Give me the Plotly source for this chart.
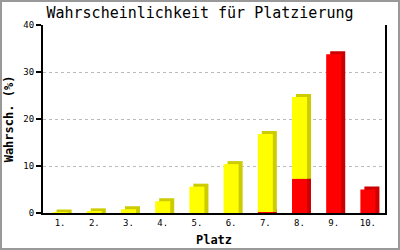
import plotly.graph_objects as go

# ---- data ----
places = ["1.", "2.", "3.", "4.", "5.", "6.", "7.", "8.", "9.", "10."]
red_vals = [0, 0, 0, 0, 0, 0, 0.2, 7.3, 33.8, 5.0]
yellow_vals = [0.1, 0.35, 0.8, 2.5, 5.6, 10.4, 16.6, 17.4, 0, 0]
title_text = "Wahrscheinlichkeit für Platzierung"
y_title = "Wahrsch. (%)"
x_title = "Platz"

# ---- style ----
W, H = 400, 250
ML, MR, MT, MB = 43, 15, 25, 37
BAR_W = 0.44
DEPTH_X = 0.117   # category units (~4px)
DEPTH_Y = 0.64    # value units (~3px)
FONT = "DejaVu Sans Mono"

fig = go.Figure()

def add_series(vals, base, front, side):
    fig.add_trace(go.Bar(
        x=places, y=[v + DEPTH_Y if v > 0 else 0 for v in vals], base=base,
        width=BAR_W, offset=-BAR_W / 2 + DEPTH_X,
        marker=dict(color=side, line=dict(width=0)), hoverinfo="skip", showlegend=False))
    fig.add_trace(go.Bar(
        x=places, y=vals, base=base,
        width=BAR_W, offset=-BAR_W / 2,
        marker=dict(color=front, line=dict(width=0)), hoverinfo="skip", showlegend=False))

zero = [0] * len(places)
add_series(red_vals, zero, "#FF0000", "#CC0000")
add_series(yellow_vals, red_vals, "#FFFF00", "#CCCC00")

fig.update_layout(
    width=W, height=H,
    margin=dict(l=ML, r=MR, t=MT, b=MB, autoexpand=False),
    barmode="overlay",
    paper_bgcolor="white", plot_bgcolor="white",
    font=dict(family=FONT, color="black", size=9),
    title=dict(text=title_text, x=0.5, xanchor="center", y=1 - 13 / H, yanchor="middle",
               font=dict(family=FONT, size=15, color="black")),
    xaxis=dict(
        type="category", range=[-0.5, len(places) - 0.5], automargin=False,
        showline=True, linecolor="black", linewidth=2, mirror=False,
        ticks="", showgrid=False, zeroline=False,
        tickfont=dict(family=FONT, size=9),
        title=dict(text="<b>" + x_title + "</b>", font=dict(family=FONT, size=12), standoff=9),
    ),
    yaxis=dict(
        range=[0, 40], dtick=10, automargin=False,
        showline=True, linecolor="black", linewidth=2, mirror=True,
        ticks="outside", ticklen=5, tickcolor="black", tickwidth=2,
        showgrid=True, gridcolor="#BBBBBB", griddash="dot", gridwidth=1,
        zeroline=False,
        tickfont=dict(family=FONT, size=9),
        title=dict(text="<b>" + y_title + "</b>", font=dict(family=FONT, size=12), standoff=7),
    ),
)

# outer grey border around the whole image
pw, ph = W - ML - MR, H - MT - MB
fig.add_shape(type="rect", xref="paper", yref="paper",
              x0=(-ML + 1) / pw, x1=1 + (MR - 1) / pw,
              y0=(-MB + 1) / ph, y1=1 + (MT - 1) / ph,
              line=dict(color="#999999", width=2), fillcolor="rgba(0,0,0,0)", layer="above")

fig.write_html("out.html", config={"displayModeBar": False})
